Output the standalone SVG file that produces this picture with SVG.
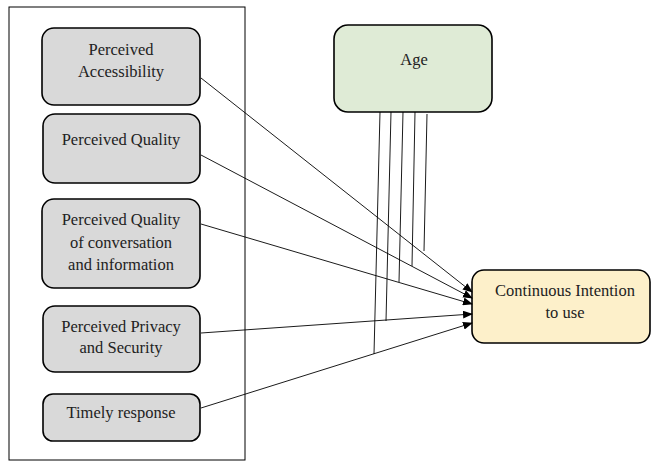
<svg xmlns="http://www.w3.org/2000/svg" width="651" height="462" viewBox="0 0 651 462">
<style>
.box{stroke:#000;stroke-width:1.6}
.g{fill:#d9d9d9}
.t{font-family:'Liberation Serif','Times New Roman',Times,serif;font-size:16.5px;fill:#222;text-anchor:middle}
.c{stroke:#000;stroke-width:0.9;fill:none}
</style>
<defs>
<marker id="ah" markerWidth="10" markerHeight="8" refX="9" refY="4" orient="auto" markerUnits="userSpaceOnUse">
<path d="M0,0 L10,4 L0,8 z" fill="#000"/>
</marker>
</defs>
<rect x="9" y="7" width="236" height="453" fill="#fff" stroke="#000" stroke-width="1"/>
<g id="n1"><rect class="box g" x="42" y="28" width="158" height="77" rx="12"/><text class="t" x="121" y="55">Perceived</text><text class="t" x="121" y="77">Accessibility</text></g>
<g id="n2"><rect class="box g" x="43" y="114" width="157" height="69" rx="12"/><text class="t" x="121" y="145">Perceived Quality</text></g>
<g id="n3"><rect class="box g" x="42" y="199" width="158" height="89" rx="12"/><text class="t" x="121" y="225">Perceived Quality</text><text class="t" x="121" y="248">of conversation</text><text class="t" x="121" y="270">and information</text></g>
<g id="n4"><rect class="box g" x="43" y="306" width="157" height="66" rx="12"/><text class="t" x="121" y="332">Perceived Privacy</text><text class="t" x="121" y="353">and Security</text></g>
<g id="n5"><rect class="box g" x="43" y="394" width="157" height="47" rx="10"/><text class="t" x="121" y="418">Timely response</text></g>
<g id="age"><rect class="box" x="334" y="25" width="158" height="87" rx="14" fill="#dfebd6"/><text class="t" x="414" y="65">Age</text></g>
<g id="ci"><rect class="box" x="472" y="270" width="178" height="73" rx="12" fill="#fdf0ca"/><text class="t" x="565" y="296">Continuous Intention</text><text class="t" x="565" y="318">to use</text></g>
<g id="connectors">
<line class="c" x1="201" y1="78" x2="472" y2="292" marker-end="url(#ah)"/>
<line class="c" x1="201" y1="155" x2="472" y2="298" marker-end="url(#ah)"/>
<line class="c" x1="201" y1="224" x2="472" y2="304" marker-end="url(#ah)"/>
<line class="c" x1="201" y1="333" x2="472" y2="314" marker-end="url(#ah)"/>
<line class="c" x1="201" y1="408" x2="472" y2="323" marker-end="url(#ah)"/>
<line class="c" x1="380" y1="112" x2="374" y2="354"/>
<line class="c" x1="391" y1="112" x2="386" y2="321"/>
<line class="c" x1="403" y1="112" x2="399" y2="282"/>
<line class="c" x1="415" y1="112" x2="412" y2="266"/>
<line class="c" x1="427" y1="114" x2="424" y2="251"/>
</g>
</svg>
